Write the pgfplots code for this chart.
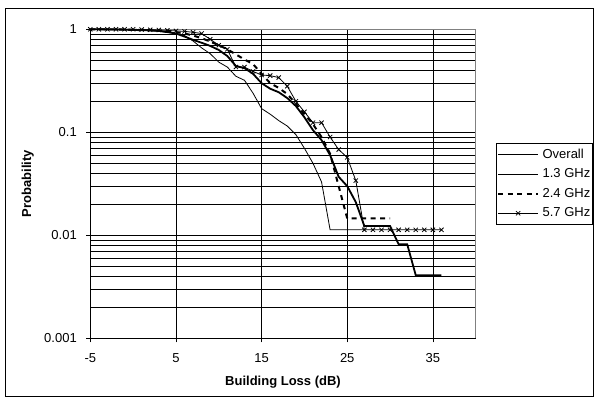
\documentclass[border=0pt]{standalone}
\usepackage{fontspec}
\setmainfont{Liberation Sans}
\usepackage{pgfplots}
\pgfplotsset{compat=1.18}
\begin{document}
\fontsize{13}{15}\selectfont
\begin{tikzpicture}
\useasboundingbox (0pt,0pt) rectangle (594pt,400pt);
\draw[black, line width=0.8pt] (5pt,4pt) rectangle (593.5pt,392pt);
\begin{axis}[
  at={(90.3pt,61.7pt)}, anchor=south west,
  scale only axis, width=385.4pt, height=309pt,
  xmin=-5, xmax=40, ymode=log, ymin=0.001, ymax=1,
  xtick={-5,5,15,25,35}, xticklabels={-5,5,15,25,35},
  ytick={0.001,0.01,0.1,1}, yticklabels={0.001,0.01,0.1,1},
  xtick pos=bottom, ytick pos=left,
  ymajorgrids, yminorgrids, xmajorgrids,
  grid style={black, line width=0.6pt},
  minor grid style={black, line width=0.6pt},
  tick align=outside, major tick length=4pt, minor tick length=0pt,
  tick style={black, line width=0.6pt},
  axis line style={draw=gray, line width=0.8pt},
  clip=false,
  xticklabel style={font=\fontsize{13}{15}\selectfont, yshift=-7pt},
  yticklabel style={font=\fontsize{13}{15}\selectfont, xshift=-5pt},
  xlabel={\bfseries Building Loss (dB)},
  ylabel={\bfseries Probability},
  xlabel style={at={(axis description cs:0.5,-0.1424)}, anchor=center, font=\fontsize{13}{15}\selectfont},
  ylabel style={at={(axis description cs:-0.162,0.5)}, anchor=center, font=\fontsize{13}{15}\selectfont},
  legend style={at={(1,0.5)}, anchor=west, xshift=20pt, draw=black, line width=0.8pt,
    font=\fontsize{13}{15}\selectfont, inner xsep=1pt, inner ysep=4pt,
    nodes={inner sep=1.5pt}, row sep=5.5pt, column sep=2pt},
  legend cell align=left,
  legend image code/.code={\draw[mark repeat=2,mark phase=2] plot coordinates {(0pt,0pt) (20pt,0pt) (40pt,0pt)};},
]
\addplot[black, line width=1.8pt] coordinates {
(-5,1)(-4,1)(-3,0.998)(-2,0.995)(-1,0.99)(0,0.985)(1,0.98)(2,0.975)(3,0.965)(4,0.94)(5,0.91)(6,0.85)(7,0.79)(8,0.74)(9,0.69)(10,0.63)(11,0.55)(12,0.44)(13,0.42)(14,0.37)(15,0.30)(16,0.265)(17,0.245)(18,0.215)(19,0.18)(20,0.14)(21,0.105)(22,0.084)(23,0.06)(24,0.037)(25,0.03)(26,0.021)(27,0.0123)(28,0.0123)(29,0.0123)(30,0.0123)(31,0.0082)(32,0.0082)(33,0.0041)(34,0.0041)(35,0.0041)(36,0.0041)};
\addlegendentry{Overall}
\addplot[black, line width=0.8pt] coordinates {
(-5,1)(-4,1)(-3,1)(-2,0.995)(-1,0.99)(0,0.985)(1,0.98)(2,0.97)(3,0.955)(4,0.935)(5,0.91)(6,0.87)(7,0.77)(8,0.66)(9,0.58)(10,0.48)(11,0.43)(12,0.35)(13,0.32)(14,0.24)(15,0.17)(16,0.15)(17,0.13)(18,0.115)(19,0.095)(20,0.07)(21,0.05)(22,0.033)(23,0.0113)(24,0.0113)(25,0.0113)(26,0.0113)(27,0.0113)};
\addlegendentry{1.3 GHz}
\addplot[black, line width=2pt, dash pattern=on 5pt off 4.5pt] coordinates {
(-5,1)(-4,1)(-3,1)(-2,1)(-1,0.995)(0,0.99)(1,0.985)(2,0.98)(3,0.975)(4,0.96)(5,0.94)(6,0.91)(7,0.87)(8,0.82)(9,0.76)(10,0.70)(11,0.64)(12,0.57)(13,0.51)(14,0.46)(15,0.37)(16,0.30)(17,0.27)(18,0.235)(19,0.19)(20,0.15)(21,0.12)(22,0.09)(23,0.062)(24,0.03)(25,0.0146)(26,0.0146)(27,0.0146)(28,0.0146)(29,0.0146)(30,0.0146)};
\addlegendentry{2.4 GHz}
\addplot[black, line width=0.8pt, mark=x, mark size=3pt, mark options={solid, line width=0.8pt}] coordinates {
(-5,1)(-4,1)(-3,1)(-2,1)(-1,1)(0,1)(1,0.995)(2,0.99)(3,0.985)(4,0.975)(5,0.965)(6,0.955)(7,0.935)(8,0.91)(9,0.80)(10,0.70)(11,0.64)(12,0.43)(13,0.43)(14,0.39)(15,0.36)(16,0.355)(17,0.34)(18,0.28)(19,0.20)(20,0.158)(21,0.124)(22,0.124)(23,0.09)(24,0.068)(25,0.057)(26,0.034)(27,0.0113)(28,0.0113)(29,0.0113)(30,0.0113)(31,0.0113)(32,0.0113)(33,0.0113)(34,0.0113)(35,0.0113)(36,0.0113)};
\addlegendentry{5.7 GHz}
\draw[black, line width=0.8pt] (rel axis cs:0,1) -- (rel axis cs:0,0) -- (rel axis cs:1,0);
\end{axis}
\end{tikzpicture}
\end{document}
